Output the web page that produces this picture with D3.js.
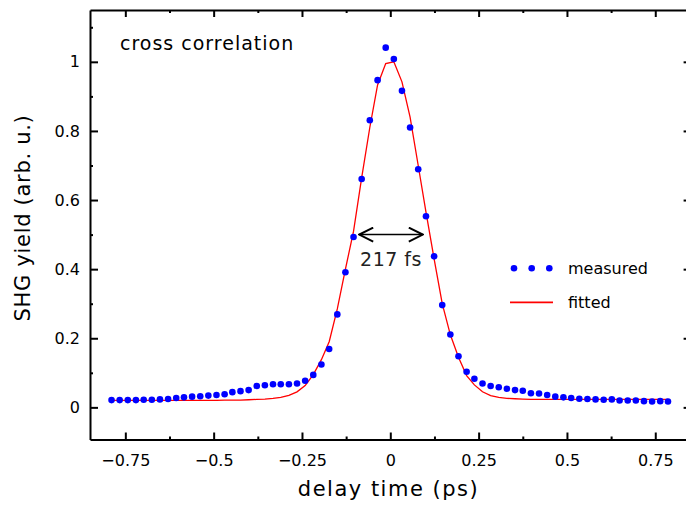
<!DOCTYPE html>
<html>
<head>
<meta charset="utf-8">
<script src="https://cdn.jsdelivr.net/npm/d3@7"></script>
<style>
  body { margin: 0; background: #fff; }
  svg { display: block; font-family: "DejaVu Sans", sans-serif; }
</style>
</head>
<body>
<div id="chart"></div>
<script>
// delay positions (ps)
const delay = [
  -0.789, -0.766, -0.743, -0.720, -0.698, -0.675, -0.652, -0.629, -0.606, -0.584,
  -0.561, -0.538, -0.515, -0.492, -0.469, -0.447, -0.424, -0.401, -0.378, -0.355,
  -0.332, -0.310, -0.287, -0.264, -0.241, -0.218, -0.195, -0.173, -0.150, -0.127,
  -0.104, -0.081, -0.058, -0.036, -0.013, 0.010, 0.033, 0.056, 0.079, 0.101,
  0.124, 0.147, 0.170, 0.193, 0.216, 0.238, 0.261, 0.284, 0.307, 0.330,
  0.353, 0.375, 0.398, 0.421, 0.444, 0.467, 0.490, 0.512, 0.535, 0.558,
  0.581, 0.604, 0.627, 0.649, 0.672, 0.695, 0.718, 0.741, 0.764, 0.786
];
const measured = [
  0.021, 0.021, 0.021, 0.021, 0.022, 0.022, 0.023, 0.024, 0.027, 0.029,
  0.031, 0.032, 0.034, 0.036, 0.038, 0.044, 0.047, 0.050, 0.062, 0.064,
  0.067, 0.067, 0.067, 0.069, 0.077, 0.094, 0.124, 0.169, 0.269, 0.391,
  0.493, 0.661, 0.831, 0.947, 1.041, 1.008, 0.916, 0.810, 0.689, 0.553,
  0.437, 0.296, 0.211, 0.148, 0.103, 0.083, 0.069, 0.062, 0.058, 0.054,
  0.050, 0.048, 0.041, 0.040, 0.036, 0.031, 0.029, 0.027, 0.025, 0.024,
  0.023, 0.022, 0.023, 0.020, 0.020, 0.020, 0.018, 0.017, 0.018, 0.017
];
const fitted = [
  0.020, 0.020, 0.020, 0.020, 0.020, 0.020, 0.020, 0.020, 0.020, 0.020,
  0.020, 0.020, 0.020, 0.020, 0.021, 0.021, 0.021, 0.022, 0.023, 0.024,
  0.026, 0.029, 0.035, 0.045, 0.063, 0.095, 0.138, 0.190, 0.285, 0.400,
  0.510, 0.665, 0.810, 0.933, 0.995, 1.000, 0.942, 0.840, 0.700, 0.565,
  0.430, 0.300, 0.210, 0.145, 0.092, 0.065, 0.045, 0.034, 0.029, 0.026,
  0.025, 0.024, 0.023, 0.023, 0.023, 0.023, 0.023, 0.023, 0.023, 0.023,
  0.023, 0.023, 0.023, 0.023, 0.023, 0.023, 0.023, 0.023, 0.023, 0.023
];

const xMajor = [-0.75, -0.5, -0.25, 0, 0.25, 0.5, 0.75];
const xTickLabels = ["\u22120.75", "\u22120.5", "\u22120.25", "0", "0.25", "0.5", "0.75"];
const xMinor = [-0.625, -0.375, -0.125, 0.125, 0.375, 0.625];
const yMajor = [0, 0.2, 0.4, 0.6, 0.8, 1];
const yTickLabels = ["0", "0.2", "0.4", "0.6", "0.8", "1"];
const yMinor = [0.1, 0.3, 0.5, 0.7, 0.9, 1.1];

const width = 686, height = 506;
const font = "DejaVu Sans";

const svg = d3.select("#chart")
  .append("svg")
  .attr("width", width)
  .attr("height", height);

const x = d3.scaleLinear().domain([-0.85, 0.85]).range([90, 690.6]);
const y = d3.scaleLinear().domain([-0.093, 1.15]).range([439.5, 10]);

// frame + ticks (all ticks point inward)
function styleAxis(g, fontSize) {
  g.attr("font-family", font).attr("font-size", fontSize);
  g.select(".domain").attr("stroke", "#000").attr("stroke-width", 2);
  g.selectAll(".tick line").attr("stroke", "#000").attr("stroke-width", 2);
  g.selectAll(".tick text").attr("fill", "#000");
}
function minor(g) {
  g.select(".domain").remove();
  g.selectAll(".tick line").attr("stroke", "#000").attr("stroke-width", 2);
}

svg.append("g")
  .attr("transform", `translate(0,${y.range()[0]})`)
  .call(d3.axisBottom(x).tickValues(xMajor).tickSize(-7).tickSizeOuter(0)
    .tickPadding(15.5).tickFormat((d, i) => xTickLabels[i]))
  .call(g => styleAxis(g, 16));
svg.append("g")
  .attr("transform", `translate(0,${y.range()[0]})`)
  .call(d3.axisBottom(x).tickValues(xMinor).tickSize(-3).tickFormat(""))
  .call(minor);

svg.append("g")
  .attr("transform", `translate(0,${y.range()[1]})`)
  .call(d3.axisTop(x).tickValues(xMajor).tickSize(-7).tickSizeOuter(0).tickFormat(""))
  .call(g => styleAxis(g, 16));
svg.append("g")
  .attr("transform", `translate(0,${y.range()[1]})`)
  .call(d3.axisTop(x).tickValues(xMinor).tickSize(-3).tickFormat(""))
  .call(minor);

svg.append("g")
  .attr("transform", `translate(${x.range()[0]},0)`)
  .call(d3.axisLeft(y).tickValues(yMajor).tickSize(-8).tickSizeOuter(0)
    .tickPadding(10).tickFormat((d, i) => yTickLabels[i]))
  .call(g => styleAxis(g, 16));
svg.append("g")
  .attr("transform", `translate(${x.range()[0]},0)`)
  .call(d3.axisLeft(y).tickValues(yMinor).tickSize(-3).tickFormat(""))
  .call(minor);

svg.append("g")
  .attr("transform", `translate(${x.range()[1]},0)`)
  .call(d3.axisRight(y).tickValues(yMajor).tickSize(-7).tickSizeOuter(0).tickFormat(""))
  .call(g => styleAxis(g, 16));
svg.append("g")
  .attr("transform", `translate(${x.range()[1]},0)`)
  .call(d3.axisRight(y).tickValues(yMinor).tickSize(-3).tickFormat(""))
  .call(minor);

// axis titles
svg.append("text")
  .attr("x", 388.5)
  .attr("y", 496)
  .attr("text-anchor", "middle")
  .attr("font-size", 21)
  .attr("letter-spacing", 1.5)
  .text("delay time (ps)");

svg.append("text")
  .attr("transform", "translate(30,218) rotate(-90)")
  .attr("text-anchor", "middle")
  .attr("font-size", 21)
  .attr("letter-spacing", 0.7)
  .text("SHG yield (arb. u.)");

svg.append("text")
  .attr("x", 120)
  .attr("y", 50)
  .attr("font-size", 19)
  .attr("letter-spacing", 1)
  .text("cross correlation");

// fitted curve
const line = d3.line()
  .x((d, i) => x(delay[i]))
  .y(d => y(d));

svg.append("path")
  .datum(fitted)
  .attr("fill", "none")
  .attr("stroke", "#ff0000")
  .attr("stroke-width", 1.3)
  .attr("d", line);

// measured points
svg.append("g")
  .selectAll("circle")
  .data(delay)
  .join("circle")
  .attr("cx", d => x(d))
  .attr("cy", (d, i) => y(measured[i]))
  .attr("r", 3.3)
  .attr("fill", "#0000ff");

// FWHM arrow
svg.append("defs").append("marker")
  .attr("id", "head")
  .attr("viewBox", "-17 -8 18 16")
  .attr("refX", 0)
  .attr("refY", 0)
  .attr("markerWidth", 18)
  .attr("markerHeight", 16)
  .attr("markerUnits", "userSpaceOnUse")
  .attr("orient", "auto-start-reverse")
  .append("path")
  .attr("d", "M-14,-7 L0,0 L-14,7")
  .attr("fill", "none")
  .attr("stroke", "#000")
  .attr("stroke-width", 2);

svg.append("line")
  .attr("x1", x(-0.088))
  .attr("x2", x(0.092))
  .attr("y1", y(0.5))
  .attr("y2", y(0.5))
  .attr("stroke", "#000")
  .attr("stroke-width", 1.5)
  .attr("marker-start", "url(#head)")
  .attr("marker-end", "url(#head)");

svg.append("text")
  .attr("x", x(0.002))
  .attr("y", y(0.409))
  .attr("text-anchor", "middle")
  .attr("font-size", 19)
  .attr("letter-spacing", 0.5)
  .attr("fill", "#222")
  .text("217 fs");

// legend
const legend = svg.append("g");
legend.selectAll("circle")
  .data([514, 531.7, 549.3])
  .join("circle")
  .attr("cx", d => d)
  .attr("cy", 268.3)
  .attr("r", 3.3)
  .attr("fill", "#0000ff");
legend.append("text")
  .attr("x", 568)
  .attr("y", 274)
  .attr("font-size", 16)
  .text("measured");
legend.append("line")
  .attr("x1", 510)
  .attr("x2", 553)
  .attr("y1", 302.3)
  .attr("y2", 302.3)
  .attr("stroke", "#ff0000")
  .attr("stroke-width", 1.8);
legend.append("text")
  .attr("x", 568)
  .attr("y", 307.5)
  .attr("font-size", 16)
  .text("fitted");
</script>
</body>
</html>
